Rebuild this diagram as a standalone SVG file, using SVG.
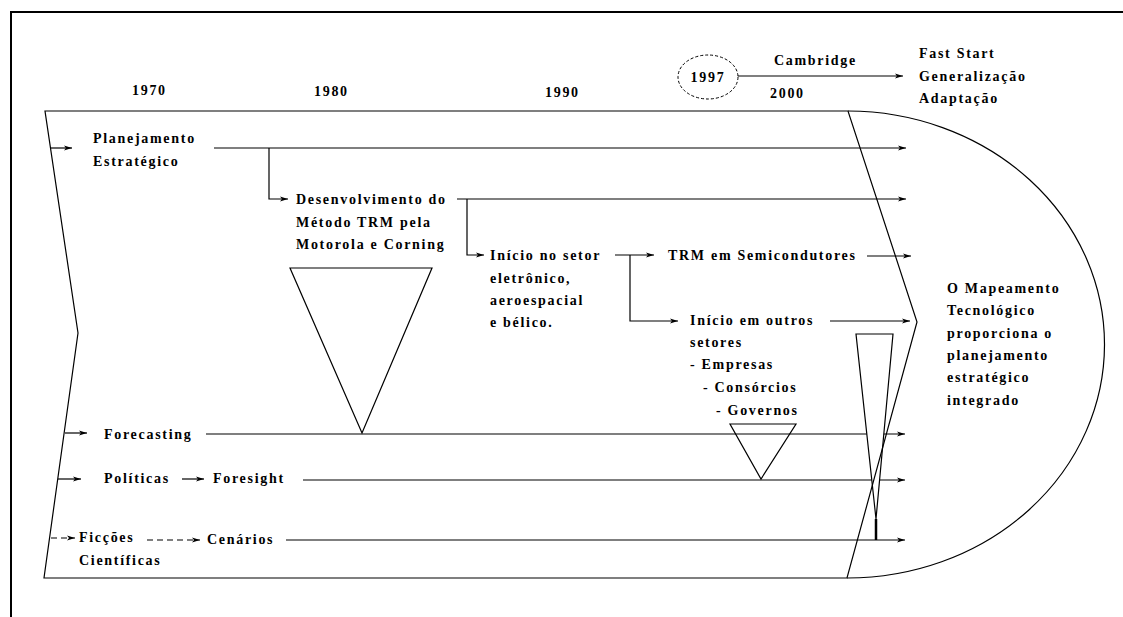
<svg xmlns="http://www.w3.org/2000/svg" width="1123" height="617" viewBox="0 0 1123 617">
<style>
text{font-family:"Liberation Serif","Times New Roman",serif;font-weight:bold;font-size:14px;letter-spacing:1.7px;fill:#000}
.ln{fill:none;stroke:#000;stroke-width:1.2}
.dash{fill:none;stroke:#000;stroke-width:1.2;stroke-dasharray:6,4}
.arr{marker-end:url(#ah)}
</style>
<defs>
<marker id="ah" markerWidth="8" markerHeight="6" refX="8" refY="3" orient="auto" markerUnits="userSpaceOnUse">
<path d="M0,0.6 L8,3 L0,5.4 L2,3 Z" fill="#000"/>
</marker>
</defs>
<rect width="1123" height="617" fill="#fff"/>
<g id="frame">
<path d="M11,617 V12 H1123" fill="none" stroke="#000" stroke-width="2"/>
</g>
<g id="connectors">
<path class="ln arr" d="M214,148 H906"/>
<path class="ln arr" d="M269,148 V199 H288"/>
<path class="ln arr" d="M457,199 H906"/>
<path class="ln arr" d="M467,199 V255 H484"/>
<path class="ln arr" d="M615,255 H654"/>
<path class="ln arr" d="M630,255 V321 H678"/>
<path class="ln arr" d="M867,256 H911"/>
<path class="ln arr" d="M830,321 H910"/>
<path class="ln arr" d="M50,148 H72"/>
<path class="ln arr" d="M65,433 H87"/>
<path class="ln arr" d="M206,434 H905"/>
<path class="ln arr" d="M58,479 H81"/>
<path class="ln arr" d="M182,479 H204"/>
<path class="ln arr" d="M303,480 H905"/>
<path class="dash arr" d="M51,538 H75"/>
<path class="dash arr" d="M147,540 H200"/>
<path class="ln arr" d="M286,540 H905"/>
<path class="ln arr" d="M738,76 H903"/>
</g>
<g id="triangle-1980">
<polygon points="290,268 432,268 362,433" class="ln"/>
</g>
<g id="triangle-governos">
<polygon points="730,424 796,424 761,479" class="ln"/>
</g>
<g id="triangle-narrow">
<polygon points="856,334 893,334 876,519" fill="#fff" stroke="#000" stroke-width="1.2"/>
<path d="M876,519 V540" stroke="#000" stroke-width="2.5"/>
</g>
<g id="timeline-shape">
<path class="ln" d="M45,111 H848 L917,322 L847,578 H44 L78,333 Z"/>
<path class="ln" d="M848,111 A257,233.5 0 0 1 847,578"/>
</g>
<g id="years">
<text x="132" y="95">1970</text>
<text x="314" y="96">1980</text>
<text x="545" y="97">1990</text>
<text x="770" y="98">2000</text>
</g>
<g id="node-1997">
<ellipse cx="708" cy="77" rx="30" ry="22" fill="none" stroke="#000" stroke-width="1" stroke-dasharray="3,2"/>
<text x="708" y="82" text-anchor="middle">1997</text>
</g>
<g id="node-cambridge"><text x="774" y="65">Cambridge</text></g>
<g id="node-faststart">
<text x="919" y="58">Fast Start</text>
<text x="919" y="81">Generalização</text>
<text x="919" y="103">Adaptação</text>
</g>
<g id="node-planejamento">
<text x="93" y="143">Planejamento</text>
<text x="93" y="166">Estratégico</text>
</g>
<g id="node-desenvolvimento">
<text x="296" y="204">Desenvolvimento do</text>
<text x="296" y="227">Método TRM pela</text>
<text x="296" y="249">Motorola e Corning</text>
</g>
<g id="node-inicio-setor">
<text x="490" y="260">Início no setor</text>
<text x="490" y="283">eletrônico,</text>
<text x="490" y="305">aeroespacial</text>
<text x="490" y="327">e bélico.</text>
</g>
<g id="node-trm-semicondutores"><text x="668" y="260">TRM em Semicondutores</text></g>
<g id="node-inicio-outros">
<text x="690" y="325">Início em outros</text>
<text x="690" y="347">setores</text>
<text x="690" y="369">- Empresas</text>
<text x="703" y="392">- Consórcios</text>
<text x="716" y="415">- Governos</text>
</g>
<g id="node-mapeamento">
<text x="947" y="293">O Mapeamento</text>
<text x="947" y="315">Tecnológico</text>
<text x="947" y="338">proporciona o</text>
<text x="947" y="360">planejamento</text>
<text x="947" y="382">estratégico</text>
<text x="947" y="405">integrado</text>
</g>
<g id="node-forecasting"><text x="104" y="439">Forecasting</text></g>
<g id="node-politicas"><text x="104" y="483">Políticas</text></g>
<g id="node-foresight"><text x="213" y="483">Foresight</text></g>
<g id="node-ficcoes">
<text x="79" y="542">Ficções</text>
<text x="79" y="565">Científicas</text>
</g>
<g id="node-cenarios"><text x="207" y="544">Cenários</text></g>
</svg>
